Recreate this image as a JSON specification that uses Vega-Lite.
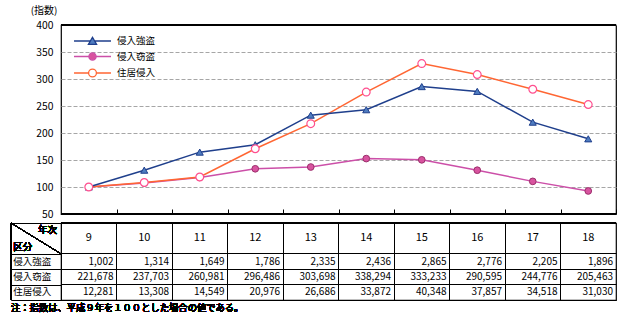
{
  "$schema": "https://vega.github.io/schema/vega-lite/v6.json",
  "padding": {"left": 9, "top": 4, "right": 6, "bottom": 4},
  "background": "white",
  "bounds": "flush",
  "spacing": 9,
  "resolve": {"scale": {"shape": "independent", "stroke": "independent", "fill": "independent"}},
  "config": {
    "font": "Noto Sans CJK JP",
    "view": {"stroke": "black", "strokeWidth": 1.2},
    "axis": {"labelColor": "black", "titleColor": "black"}
  },
  "datasets": {
    "crime": [
      {"series": "侵入強盗", "year": 9, "count": 1002, "index": 100},
      {"series": "侵入強盗", "year": 10, "count": 1314, "index": 131.14},
      {"series": "侵入強盗", "year": 11, "count": 1649, "index": 164.57},
      {"series": "侵入強盗", "year": 12, "count": 1786, "index": 178.24},
      {"series": "侵入強盗", "year": 13, "count": 2335, "index": 233.03},
      {"series": "侵入強盗", "year": 14, "count": 2436, "index": 243.11},
      {"series": "侵入強盗", "year": 15, "count": 2865, "index": 285.93},
      {"series": "侵入強盗", "year": 16, "count": 2776, "index": 277.05},
      {"series": "侵入強盗", "year": 17, "count": 2205, "index": 220.06},
      {"series": "侵入強盗", "year": 18, "count": 1896, "index": 189.22},
      {"series": "侵入窃盗", "year": 9, "count": 221678, "index": 100},
      {"series": "侵入窃盗", "year": 10, "count": 237703, "index": 107.23},
      {"series": "侵入窃盗", "year": 11, "count": 260981, "index": 117.73},
      {"series": "侵入窃盗", "year": 12, "count": 296486, "index": 133.75},
      {"series": "侵入窃盗", "year": 13, "count": 303698, "index": 137.0},
      {"series": "侵入窃盗", "year": 14, "count": 338294, "index": 152.61},
      {"series": "侵入窃盗", "year": 15, "count": 333233, "index": 150.32},
      {"series": "侵入窃盗", "year": 16, "count": 290595, "index": 131.09},
      {"series": "侵入窃盗", "year": 17, "count": 244776, "index": 110.42},
      {"series": "侵入窃盗", "year": 18, "count": 205463, "index": 92.69},
      {"series": "住居侵入", "year": 9, "count": 12281, "index": 100},
      {"series": "住居侵入", "year": 10, "count": 13308, "index": 108.36},
      {"series": "住居侵入", "year": 11, "count": 14549, "index": 118.47},
      {"series": "住居侵入", "year": 12, "count": 20976, "index": 170.8},
      {"series": "住居侵入", "year": 13, "count": 26686, "index": 217.29},
      {"series": "住居侵入", "year": 14, "count": 33872, "index": 275.81},
      {"series": "住居侵入", "year": 15, "count": 40348, "index": 328.54},
      {"series": "住居侵入", "year": 16, "count": 37857, "index": 308.26},
      {"series": "住居侵入", "year": 17, "count": 34518, "index": 281.07},
      {"series": "住居侵入", "year": 18, "count": 31030, "index": 252.67}
    ]
  },
  "vconcat": [
    {
      "width": 555,
      "height": 189,
      "data": {"name": "crime"},
      "layer": [
        {
          "mark": {"type": "rule", "color": "black", "strokeWidth": 1.2},
          "encoding": {
            "y": {
              "datum": 400, "type": "quantitative",
              "scale": {"domain": [50, 400], "nice": false, "zero": false},
              "axis": {
                "values": [50, 100, 150, 200, 250, 300, 350, 400],
                "tickCount": 20,
                "labelOverlap": false,
                "grid": true, "gridColor": "#A6A6A6", "gridDash": [4, 2], "gridWidth": 1,
                "ticks": false, "domain": false, "labelPadding": 8, "labelFontSize": 10.3,
                "title": "(指数)", "titleAngle": 0, "titleAlign": "right", "titleBaseline": "middle",
                "titleX": -4, "titleY": -14.5, "titleFontSize": 10, "titleFontWeight": "normal"
              }
            }
          }
        },
        {
          "transform": [{"filter": {"field": "series", "equal": "侵入窃盗"}}],
          "mark": {"type": "line", "strokeWidth": 1.5, "color": "#CC4FA8"},
          "encoding": {
            "x": {
              "field": "year", "type": "ordinal",
              "scale": {"type": "point", "padding": 0.5, "domain": [9, 10, 11, 12, 13, 14, 15, 16, 17, 18]},
              "axis": {"labels": false, "domain": false, "grid": false, "ticks": true, "tickSize": -5, "tickOffset": 27.75, "tickColor": "black", "tickWidth": 1, "title": null}
            },
            "y": {"field": "index", "type": "quantitative"}
          }
        },
        {
          "transform": [{"filter": {"field": "series", "equal": "住居侵入"}}],
          "mark": {"type": "line", "strokeWidth": 1.5, "color": "#FF6633"},
          "encoding": {
            "x": {"field": "year", "type": "ordinal"},
            "y": {"field": "index", "type": "quantitative"}
          }
        },
        {
          "transform": [{"filter": {"field": "series", "equal": "侵入強盗"}}],
          "mark": {"type": "line", "strokeWidth": 1.5, "color": "#1F3F8C"},
          "encoding": {
            "x": {"field": "year", "type": "ordinal"},
            "y": {"field": "index", "type": "quantitative"}
          }
        },
        {
          "mark": {"type": "rule", "color": "black", "strokeWidth": 1.2},
          "encoding": {"y": {"datum": 50, "type": "quantitative"}}
        },
        {
          "transform": [{"filter": {"field": "series", "equal": "侵入強盗"}}],
          "mark": {"type": "point", "shape": "triangle-up", "filled": true, "fill": "#4F7CC0", "stroke": "#1F3F8C", "strokeWidth": 1, "size": 50, "opacity": 1},
          "encoding": {
            "x": {"field": "year", "type": "ordinal"},
            "y": {"field": "index", "type": "quantitative"}
          }
        },
        {
          "transform": [{"filter": {"field": "series", "equal": "侵入窃盗"}}],
          "mark": {"type": "point", "shape": "circle", "filled": true, "fill": "#D8539F", "stroke": "#9C2F6C", "strokeWidth": 1, "size": 45, "opacity": 1},
          "encoding": {
            "x": {"field": "year", "type": "ordinal"},
            "y": {"field": "index", "type": "quantitative"}
          }
        },
        {
          "transform": [{"filter": {"field": "series", "equal": "住居侵入"}}],
          "mark": {"type": "point", "shape": "circle", "filled": true, "fill": "white", "stroke": "#FF4F8F", "strokeWidth": 1.2, "size": 60, "opacity": 1},
          "encoding": {
            "x": {"field": "year", "type": "ordinal"},
            "y": {"field": "index", "type": "quantitative"}
          }
        },
        {
          "transform": [{"filter": {"field": "year", "equal": 9}}],
          "mark": {"type": "point", "filled": true, "opacity": 1, "clip": true},
          "encoding": {
            "x": {"field": "year", "type": "ordinal"},
            "y": {"datum": 900, "type": "quantitative"},
            "shape": {
              "field": "series", "type": "nominal",
              "scale": {
                "domain": ["侵入強盗", "侵入窃盗", "住居侵入"],
                "range": [
                  "M-3.08,0L-0.4,0M0.4,0L3.08,0M0,-0.62L0.68,0.55L-0.68,0.55Z",
                  "M-3.08,0L-0.6,0M0.6,0L3.08,0M-0.6,0A0.6,0.6,0,1,1,0.6,0A0.6,0.6,0,1,1,-0.6,0Z",
                  "M-3.08,0L-0.65,0M0.65,0L3.08,0M-0.65,0A0.65,0.65,0,1,1,0.65,0A0.65,0.65,0,1,1,-0.65,0Z"
                ]
              },
              "legend": {"orient": "none", "legendX": 16, "legendY": 9, "padding": 0, "title": null, "symbolSize": 144, "symbolStrokeWidth": 1.3, "symbolOffset": 8.5, "labelOffset": 17.5, "rowPadding": 2.5, "labelFontSize": 9.5, "labelColor": "black"}
            },
            "stroke": {
              "field": "series", "type": "nominal",
              "scale": {"domain": ["侵入強盗", "侵入窃盗", "住居侵入"], "range": ["#1F3F8C", "#CC4FA8", "#FF6633"]},
              "legend": {"orient": "none", "legendX": 16, "legendY": 9, "padding": 0, "title": null, "symbolSize": 144, "symbolStrokeWidth": 1.3, "symbolOffset": 8.5, "labelOffset": 17.5, "rowPadding": 2.5, "labelFontSize": 9.5, "labelColor": "black"}
            },
            "fill": {
              "field": "series", "type": "nominal",
              "scale": {"domain": ["侵入強盗", "侵入窃盗", "住居侵入"], "range": ["#4F7CC0", "#D8539F", "#FFFFFF"]},
              "legend": {"orient": "none", "legendX": 16, "legendY": 9, "padding": 0, "title": null, "symbolSize": 144, "symbolStrokeWidth": 1.3, "symbolOffset": 8.5, "labelOffset": 17.5, "rowPadding": 2.5, "labelFontSize": 9.5, "labelColor": "black"}
            }
          }
        }
      ]
    },
    {
      "width": 555,
      "height": 77,
      "data": {"name": "crime"},
      "resolve": {"scale": {"x": "independent", "y": "independent"}},
      "layer": [
        {
          "mark": {"type": "rule", "color": "black", "strokeWidth": 1},
          "encoding": {
            "y": {
              "datum": 0, "type": "quantitative",
              "scale": {"domain": [0, 5], "reverse": true},
              "axis": {"orient": "left", "offset": 50, "values": [0, 2, 3, 4, 5], "tickCount": 20, "labels": false, "grid": false, "domain": true, "domainColor": "black", "domainWidth": 1, "ticks": true, "tickSize": -50, "tickColor": "black", "tickWidth": 1, "title": null}
            }
          }
        },
        {
          "mark": {"type": "rule", "color": "black", "strokeWidth": 1},
          "encoding": {
            "x": {"datum": -0.9009, "type": "quantitative", "scale": {"domain": [0, 10]}, "axis": null}
          }
        },
        {
          "mark": {"type": "rule", "color": "black", "strokeWidth": 1},
          "encoding": {
            "x": {"datum": -0.9009, "type": "quantitative", "scale": {"domain": [0, 10]}, "axis": null},
            "x2": {"datum": 0.0001},
            "y": {"datum": 0, "type": "quantitative", "scale": {"domain": [0, 5], "reverse": true}, "axis": null},
            "y2": {"datum": 2}
          }
        },
        {
          "mark": {"type": "text", "align": "right", "baseline": "middle", "fontSize": 9.5, "text": "年次", "color": "black"},
          "encoding": {
            "x": {"datum": -0.07, "type": "quantitative", "scale": {"domain": [0, 10]}, "axis": null},
            "y": {"datum": 0.45, "type": "quantitative", "scale": {"domain": [0, 5], "reverse": true}, "axis": null}
          }
        },
        {
          "mark": {"type": "text", "align": "left", "baseline": "middle", "fontSize": 9.5, "text": "区分", "color": "black"},
          "encoding": {
            "x": {"datum": -0.86, "type": "quantitative", "scale": {"domain": [0, 10]}, "axis": null},
            "y": {"datum": 1.55, "type": "quantitative", "scale": {"domain": [0, 5], "reverse": true}, "axis": null}
          }
        },
        {
          "transform": [{"filter": {"field": "year", "equal": 9}}],
          "mark": {"type": "text", "align": "left", "baseline": "middle", "fontSize": 9.5, "color": "black"},
          "encoding": {
            "x": {"datum": -0.86, "type": "quantitative", "scale": {"domain": [0, 10]}, "axis": null},
            "y": {"field": "series", "type": "nominal", "bandPosition": 0.5, "scale": {"type": "band", "domain": ["_h1", "_h2", "侵入強盗", "侵入窃盗", "住居侵入"], "paddingInner": 0, "paddingOuter": 0}, "axis": null},
            "text": {"field": "series", "type": "nominal"}
          }
        },
        {
          "mark": {"type": "text", "align": "right", "baseline": "middle", "dx": -3, "fontSize": 10, "color": "black"},
          "encoding": {
            "x": {
              "field": "year", "type": "ordinal", "bandPosition": 1,
              "scale": {"type": "band", "domain": [9, 10, 11, 12, 13, 14, 15, 16, 17, 18], "paddingInner": 0, "paddingOuter": 0},
              "axis": {"grid": true, "gridColor": "black", "gridWidth": 1, "bandPosition": 0, "labels": false, "ticks": false, "domain": false, "title": null}
            },
            "y": {
              "field": "series", "type": "nominal", "bandPosition": 0.5,
              "scale": {"type": "band", "domain": ["_h1", "_h2", "侵入強盗", "侵入窃盗", "住居侵入"], "paddingInner": 0, "paddingOuter": 0},
              "axis": {"grid": true, "gridColor": "black", "gridWidth": 1, "bandPosition": 0, "values": ["侵入強盗", "侵入窃盗", "住居侵入"], "labels": false, "ticks": false, "domain": false, "title": null}
            },
            "text": {"field": "count", "type": "quantitative", "format": ","}
          }
        },
        {
          "transform": [{"filter": {"field": "series", "equal": "侵入強盗"}}],
          "mark": {"type": "text", "align": "center", "baseline": "middle", "fontSize": 11, "color": "black"},
          "encoding": {
            "x": {
              "field": "year", "type": "ordinal", "bandPosition": 0.5,
              "scale": {"type": "band", "domain": [9, 10, 11, 12, 13, 14, 15, 16, 17, 18], "paddingInner": 0, "paddingOuter": 0},
              "axis": null
            },
            "y": {
              "datum": "_h1", "type": "nominal", "bandPosition": 1,
              "scale": {"type": "band", "domain": ["_h1", "_h2", "侵入強盗", "侵入窃盗", "住居侵入"], "paddingInner": 0, "paddingOuter": 0},
              "axis": null
            },
            "text": {"field": "year", "type": "ordinal"}
          }
        },
        {
          "mark": {"type": "text", "align": "left", "baseline": "middle", "fontSize": 9.3, "color": "black", "text": "注：指数は、平成９年を１００とした場合の値である。"},
          "encoding": {
            "x": {"datum": -0.9009, "type": "quantitative", "scale": {"domain": [0, 10]}, "axis": null},
            "y": {"datum": 5.55, "type": "quantitative", "scale": {"domain": [0, 5], "reverse": true}, "axis": null}
          }
        }
      ]
    }
  ]
}
